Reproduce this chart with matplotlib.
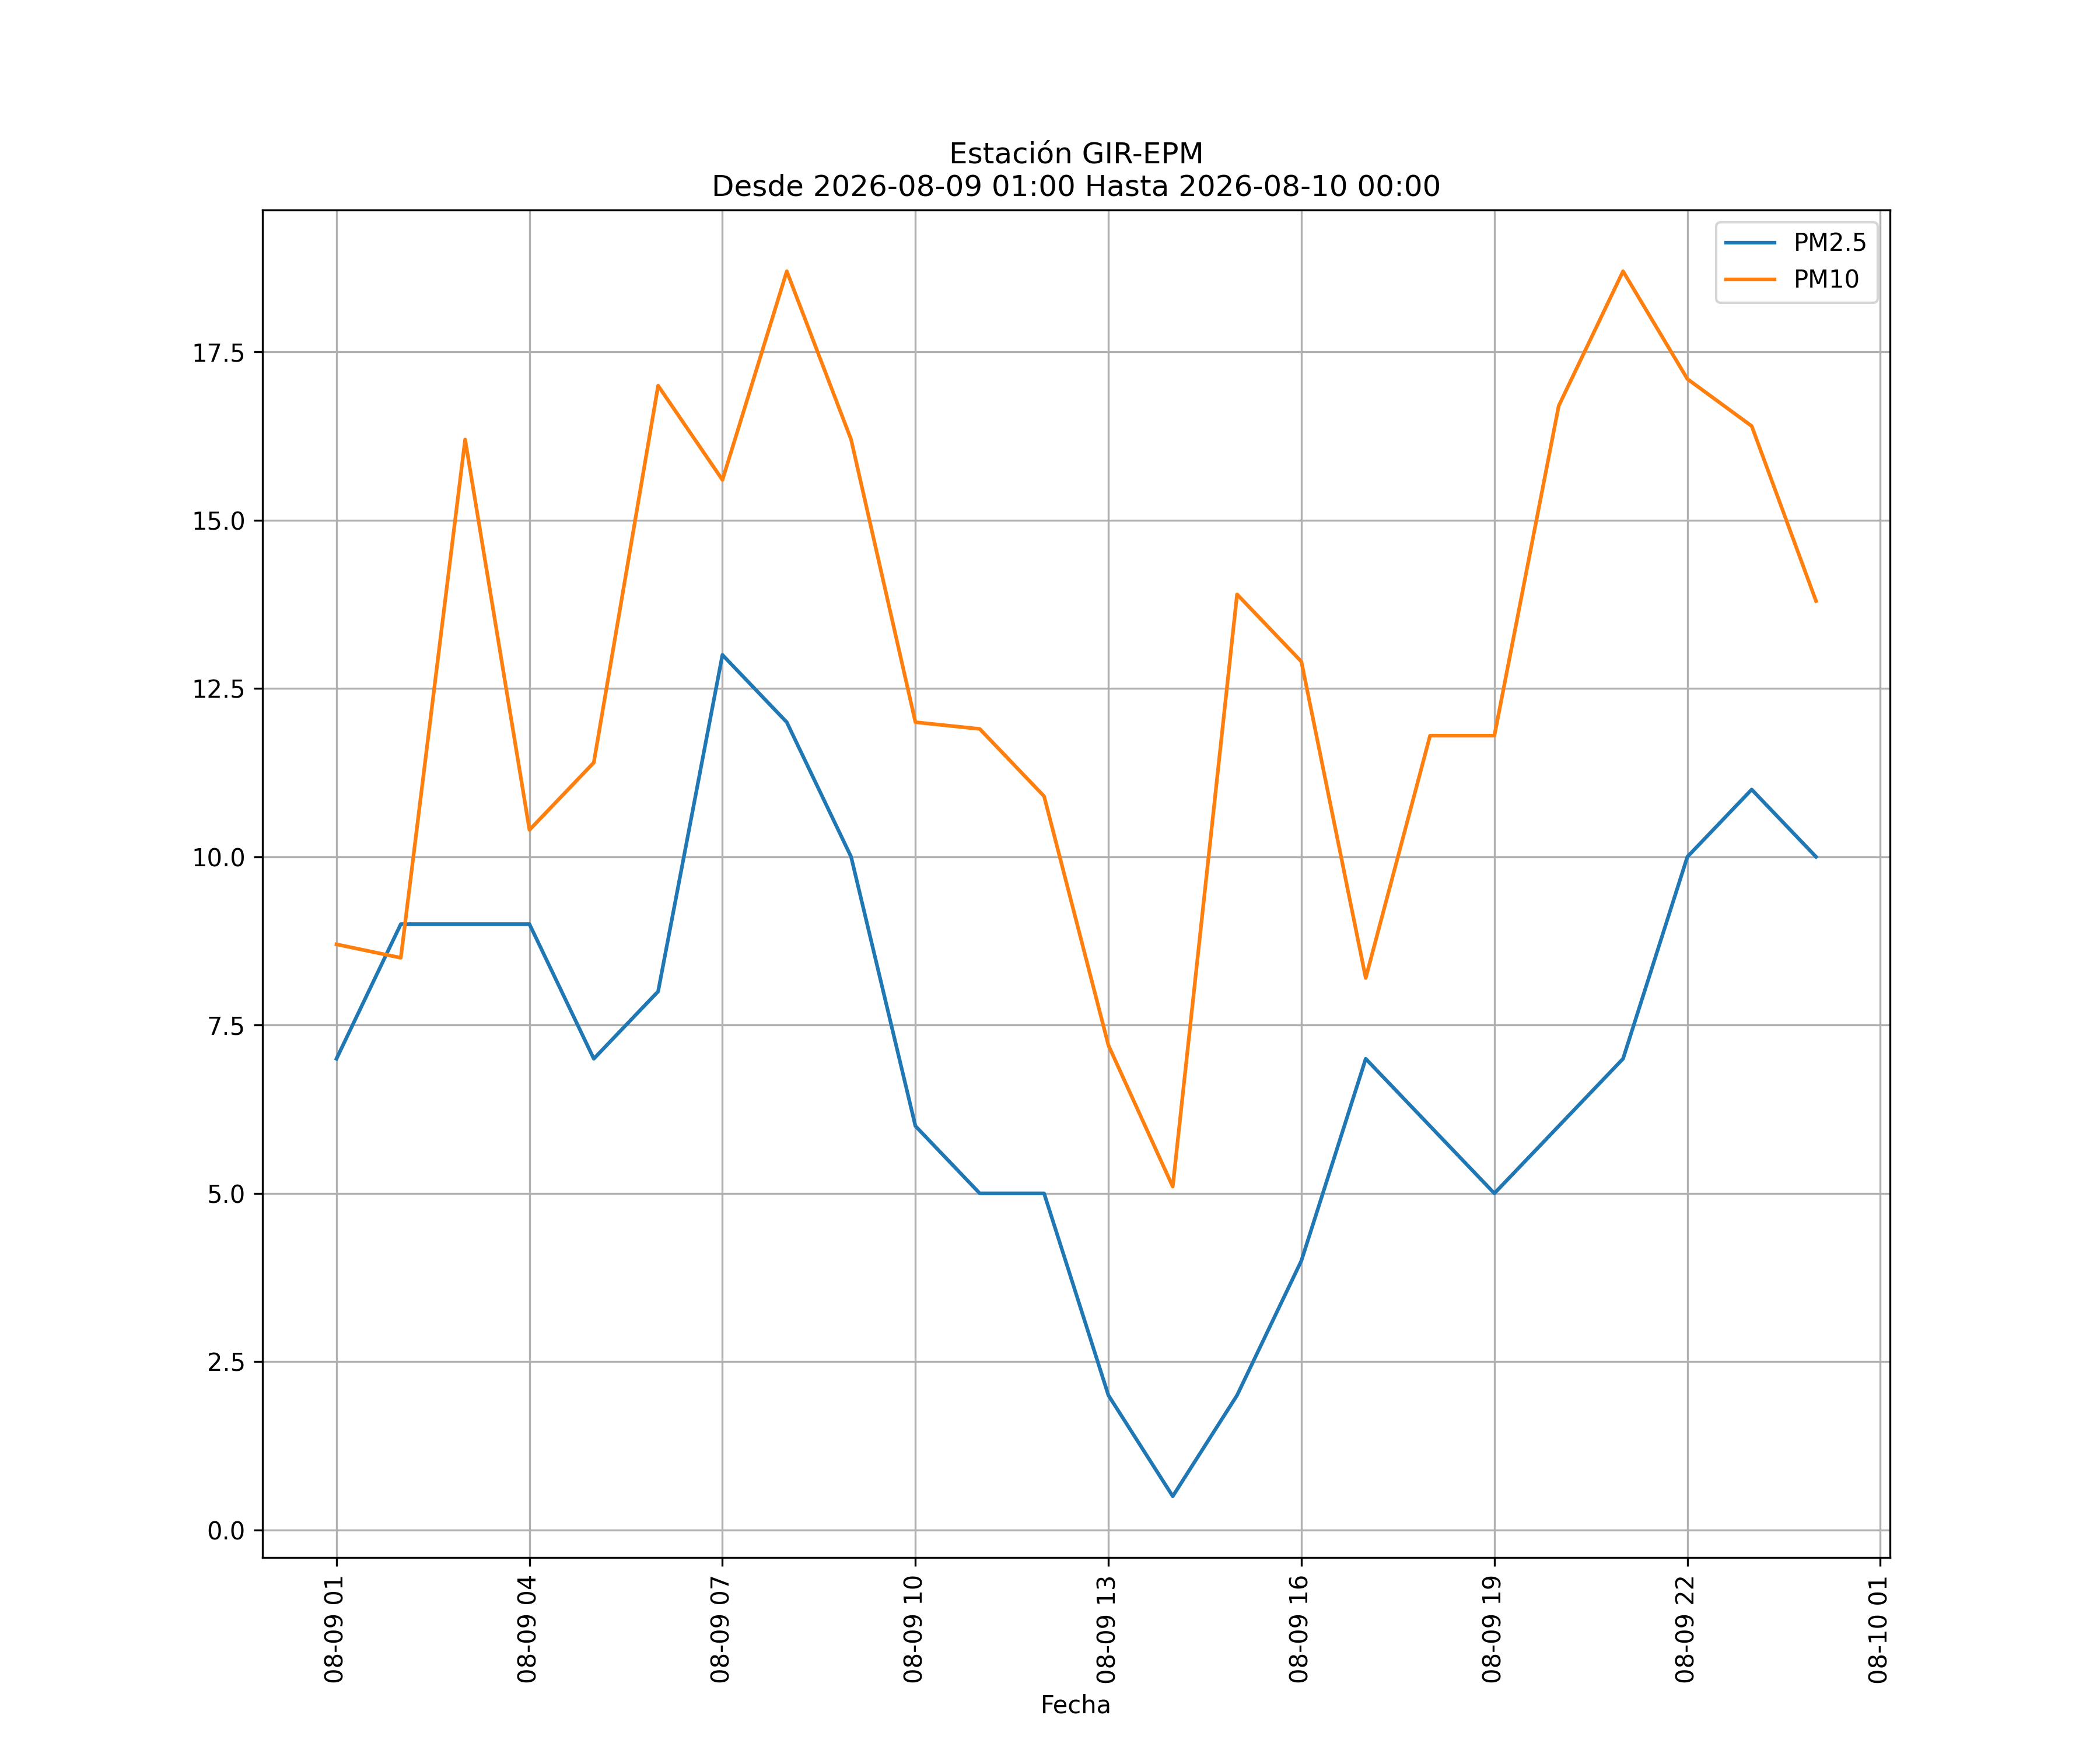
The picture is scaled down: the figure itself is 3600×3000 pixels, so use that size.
import numpy as np
import pandas as pd
import matplotlib
matplotlib.use("Agg")
import matplotlib.pyplot as plt
import matplotlib.dates as mdates

fechas = pd.date_range("2026-08-09 01:00", "2026-08-10 00:00", freq="h")
pm25 = [7, 9, 9, 9, 7, 8, 13, 12, 10, 6, 5, 5, 2, 0.5, 2, 4, 7, 6, 5, 6, 7, 10, 11, 10]
pm10 = [8.7, 8.5, 16.2, 10.4, 11.4, 17.0, 15.6, 18.7, 16.2, 12.0, 11.9, 10.9,
        7.2, 5.1, 13.9, 12.9, 8.2, 11.8, 11.8, 16.7, 18.7, 17.1, 16.4, 13.8]

fig, ax = plt.subplots(figsize=(12, 10))
ax.plot(fechas, pm25, label="PM2.5")
ax.plot(fechas, pm10, label="PM10")

ax.xaxis.set_major_locator(mdates.HourLocator(byhour=range(1, 24, 3)))
ax.xaxis.set_major_formatter(mdates.DateFormatter("%m-%d %H"))
plt.xticks(rotation=90)
ax.set_xlabel("Fecha")
ax.set_title("Estación GIR-EPM\nDesde 2026-08-09 01:00 Hasta 2026-08-10 00:00")
ax.grid(True)
ax.legend()

fig.savefig("out.png", dpi=300)
